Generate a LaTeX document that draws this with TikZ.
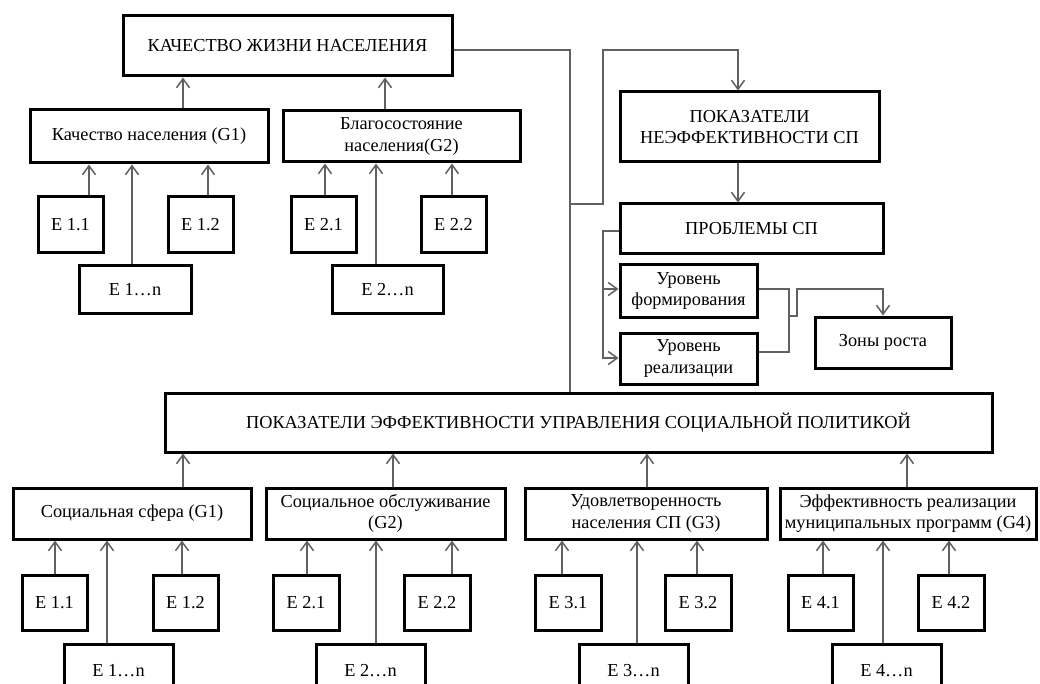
\documentclass[tikz,border=0pt]{standalone}
\usepackage{fontspec}
\setmainfont{Liberation Serif}
\usetikzlibrary{arrows.meta}
\tikzset{
  box/.style={draw=black, line width=3pt, fill=white, inner sep=0pt, align=center,
    font=\fontsize{18.3}{21.5}\selectfont},
  conn/.style={draw=black!62, line width=1.5pt},
  arr/.style={conn, -{Straight Barb[length=9pt,width=13pt]}}
}
\newcommand\bx[6]{\node[box, minimum width={(#4-#2)*1pt}, minimum height={(#5-#3)*1pt}] (#1) at ({(#2+#4)/2},{(#3+#5)/2}) {#6};}
\begin{document}
\begin{tikzpicture}[x=1pt,y=-1pt]
\useasboundingbox[fill=white] (0,0) rectangle (1040,684);
\clip (0,0) rectangle (1040,684);
% top part
\bx{top}{123}{16}{452}{76}{КАЧЕСТВО ЖИЗНИ НАСЕЛЕНИЯ}
\bx{tga}{30}{110}{268}{163}{Качество населения (G1)}
\bx{tgb}{283}{111}{520}{162}{Благосостояние\\населения(G2)}
\bx{tea}{38}{197}{103}{253}{E 1.1}
\bx{teb}{168}{197}{233}{253}{E 1.2}
\bx{ten}{79}{266}{191}{313}{E 1…n}
\bx{tfa}{291}{197}{356}{253}{E 2.1}
\bx{tfb}{421}{197}{486}{253}{E 2.2}
\bx{tfn}{332}{266}{443}{313}{E 2…n}
% right part
\bx{nef}{620}{92}{879}{162}{ПОКАЗАТЕЛИ\\НЕЭФФЕКТИВНОСТИ СП}
\bx{prob}{620}{204}{883}{254}{ПРОБЛЕМЫ СП}
\bx{urf}{620}{265}{757}{317}{Уровень\\формирования}
\bx{urr}{620}{333}{757}{384}{Уровень\\реализации}
\bx{zona}{815}{317}{951}{368}{Зоны роста}
% main
\bx{main}{165}{393}{992}{452}{ПОКАЗАТЕЛИ ЭФФЕКТИВНОСТИ УПРАВЛЕНИЯ СОЦИАЛЬНОЙ ПОЛИТИКОЙ}
\bx{ga}{13}{488}{251}{539}{Социальная сфера (G1)}
\bx{gb}{266}{488}{505}{539}{Социальное обслуживание\\(G2)}
\bx{gc}{525}{488}{767}{539}{Удовлетворенность\\населения СП (G3)}
\bx{gd}{780}{488}{1036}{539}{Эффективность реализации\\муниципальных программ (G4)}
\bx{ea}{22}{575}{87}{630}{E 1.1}
\bx{eb}{153}{575}{218}{630}{E 1.2}
\bx{en}{64}{644}{173}{697}{E 1…n}
\bx{fa}{273}{575}{339}{630}{E 2.1}
\bx{fb}{404}{575}{470}{630}{E 2.2}
\bx{fn}{316}{644}{425}{697}{E 2…n}
\bx{ha}{535}{575}{601}{630}{E 3.1}
\bx{hb}{665}{575}{731}{630}{E 3.2}
\bx{hn}{579}{644}{688}{697}{E 3…n}
\bx{ka}{788}{575}{853}{630}{E 4.1}
\bx{kb}{918}{575}{984}{630}{E 4.2}
\bx{kn}{832}{644}{941}{697}{E 4…n}
% connectors top
\draw[arr] (tga.north -| 183,0) -- (top.south -| 183,0);
\draw[arr] (tgb.north -| 385,0) -- (top.south -| 385,0);
\draw[arr] (tea.north -| 89,0) -- (tga.south -| 89,0);
\draw[arr] (ten.north -| 132,0) -- (tga.south -| 132,0);
\draw[arr] (teb.north -| 208,0) -- (tga.south -| 208,0);
\draw[arr] (tfa.north -| 325,0) -- (tgb.south -| 325,0);
\draw[arr] (tfn.north -| 376,0) -- (tgb.south -| 376,0);
\draw[arr] (tfb.north -| 452,0) -- (tgb.south -| 452,0);
% right connectors
\coordinate (j1) at (570,204);
\draw[conn] (top.east |- 0,50) -- (570,50) -- (main.north -| 570,0);
\draw[arr] (j1) -- (603,204) -- (603,50) -- (738,50) -- (nef.north -| 738,0);
\draw[arr] (nef.south -| 738,0) -- (prob.north -| 738,0);
\draw[arr] (prob.west |- 0,231) -- (603,231) -- (603,358) -- (urr.west |- 0,358);
\draw[arr] (603,289) -- (urf.west |- 0,289);
\draw[conn] (urf.east |- 0,289) -- (789,289) -- (789,352) -- (urr.east |- 0,352);
\draw[arr] (789,316) -- (797,316) -- (797,289) -- (883,289) -- (zona.north -| 883,0);
% bottom connectors
\draw[arr] (ga.north -| 183,0) -- (main.south -| 183,0);
\draw[arr] (gb.north -| 393,0) -- (main.south -| 393,0);
\draw[arr] (gc.north -| 647,0) -- (main.south -| 647,0);
\draw[arr] (gd.north -| 907,0) -- (main.south -| 907,0);
\draw[arr] (ea.north -| 55,0) -- (ga.south -| 55,0);
\draw[arr] (en.north -| 107,0) -- (ga.south -| 107,0);
\draw[arr] (eb.north -| 182,0) -- (ga.south -| 182,0);
\draw[arr] (fa.north -| 307,0) -- (gb.south -| 307,0);
\draw[arr] (fn.north -| 376,0) -- (gb.south -| 376,0);
\draw[arr] (fb.north -| 452,0) -- (gb.south -| 452,0);
\draw[arr] (ha.north -| 562,0) -- (gc.south -| 562,0);
\draw[arr] (hn.north -| 637,0) -- (gc.south -| 637,0);
\draw[arr] (hb.north -| 697,0) -- (gc.south -| 697,0);
\draw[arr] (ka.north -| 823,0) -- (gd.south -| 823,0);
\draw[arr] (kn.north -| 883,0) -- (gd.south -| 883,0);
\draw[arr] (kb.north -| 949,0) -- (gd.south -| 949,0);
\end{tikzpicture}
\end{document}
